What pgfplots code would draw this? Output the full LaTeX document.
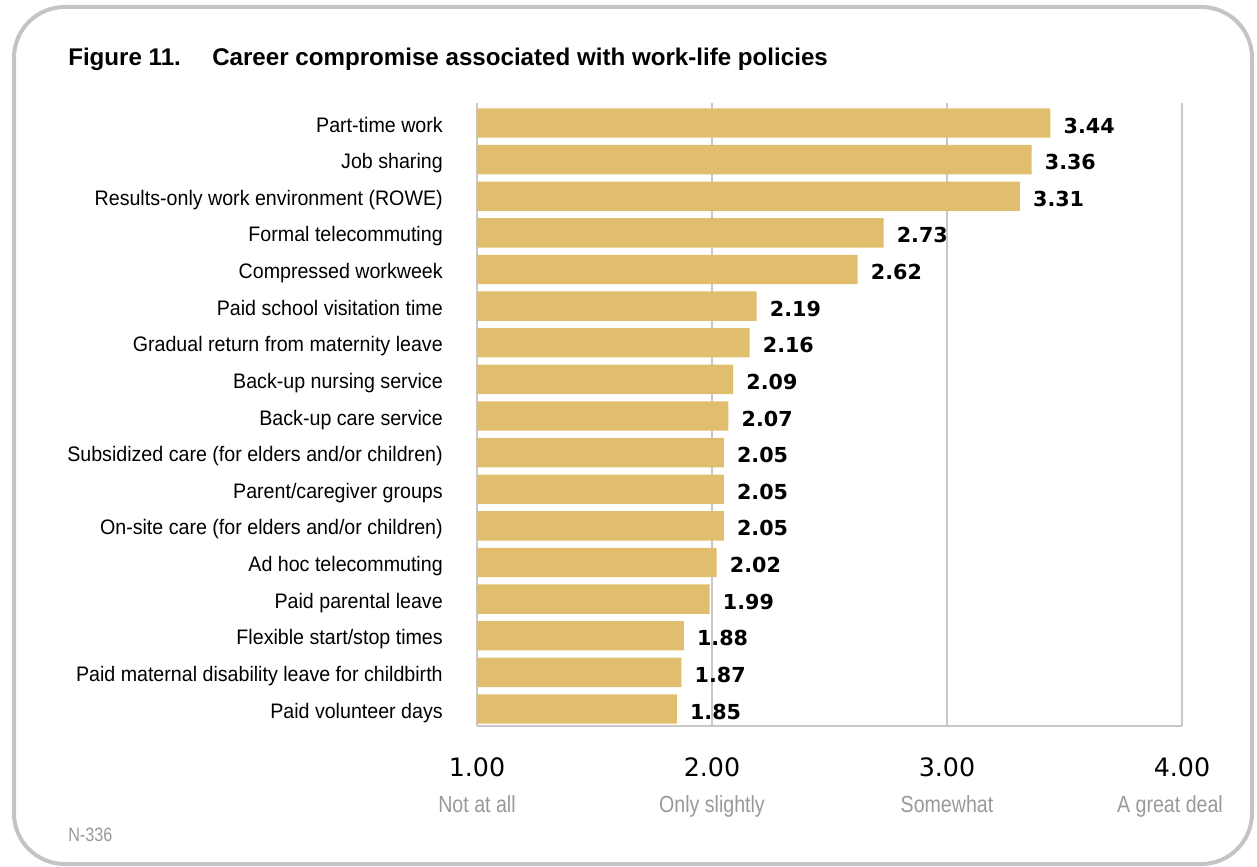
\documentclass[border=0pt]{standalone}
\usepackage{fontspec}
\usepackage{pgfplots}
\pgfplotsset{compat=1.18}
\usepackage{pgfplotstable}
\setmainfont{Liberation Sans}
\newfontfamily\catfont[FakeStretch=0.935]{Liberation Sans}
\newfontfamily\grayfont[FakeStretch=0.84]{Liberation Sans}
\newfontfamily\dejavu{DejaVu Sans}
\definecolor{bargold}{HTML}{E0BE6E}
\definecolor{gridgray}{HTML}{C8C8C8}
\definecolor{framegray}{HTML}{C4C4C4}
\definecolor{labelgray}{HTML}{999999}

\pgfplotstableread{
idx val
0 3.44
1 3.36
2 3.31
3 2.73
4 2.62
5 2.19
6 2.16
7 2.09
8 2.07
9 2.05
10 2.05
11 2.05
12 2.02
13 1.99
14 1.88
15 1.87
16 1.85
}\datatable

\begin{document}
\begin{tikzpicture}
\useasboundingbox (0,0) rectangle (942.75pt,-650.25pt);
\draw[framegray, line width=3pt, rounded corners=38pt] (14*0.75pt,-7*0.75pt) rectangle (1252*0.75pt,-864*0.75pt);
\node[anchor=base west, inner sep=0pt, font=\bfseries\fontsize{18.1pt}{21pt}\selectfont] at (68*0.75pt,-66*0.75pt) {Figure 11.};
\node[anchor=base west, inner sep=0pt, font=\bfseries\fontsize{18.1pt}{21pt}\selectfont] at (212*0.75pt,-66*0.75pt) {Career compromise associated with work-life policies};
\node[anchor=base west, inner sep=0pt, text=labelgray, font=\grayfont\fontsize{14.5pt}{16pt}\selectfont] at (68*0.75pt,-841*0.75pt) {N-336};
\begin{axis}[
  at={(477*0.75pt,-103*0.75pt)}, anchor=north west,
  scale only axis, width=528.75pt, height=467.25pt,
  /pgf/number format/assume math mode=true,
  xbar, bar width=0.8,
  xmin=1, xmax=4, ymin=-0.546, ymax=16.464, y dir=reverse,
  axis line style={draw=none},
  major tick length=0pt,
  xtick={1,2,3,4},
  xticklabels={1.00,2.00,3.00,4.00},
  xticklabel style={anchor=base, inner sep=0pt, yshift=-37.5pt, font=\dejavu\fontsize{19pt}{22pt}\selectfont},
  extra x ticks={1,2,3,4},
  extra x tick labels={Not at all,Only slightly,Somewhat,A great deal\kern18pt\mbox{}},
  extra x tick style={grid=none, xticklabel style={yshift=-27pt, text=labelgray, font=\grayfont\fontsize{17.5pt}{20pt}\selectfont}},
  xmajorgrids, grid style={gridgray, line width=1.5pt},
  ytick={0,...,16},
  yticklabels={Part-time work,Job sharing,Results-only work environment (ROWE),Formal telecommuting,Compressed workweek,Paid school visitation time,Gradual return from maternity leave,Back-up nursing service,Back-up care service,Subsidized care (for elders and/or children),Parent/caregiver groups,On-site care (for elders and/or children),Ad hoc telecommuting,Paid parental leave,Flexible start/stop times,Paid maternal disability leave for childbirth,Paid volunteer days},
  yticklabel style={anchor=base east, inner sep=0pt, xshift=-25.5pt, yshift=-6.75pt, font=\catfont\fontsize{15.75pt}{18pt}\selectfont},
  point meta=x,
  nodes near coords={\pgfmathprintnumber[fixed,fixed zerofill,precision=2]{\pgfplotspointmeta}},
  nodes near coords style={anchor=base west, inner sep=0pt, xshift=9.75pt, yshift=-7.5pt, font=\dejavu\bfseries\fontsize{15.5pt}{18pt}\selectfont},
]
\addplot[fill=bargold, draw=none] table[x=val, y=idx] {\datatable};
\draw[gridgray, line width=1.5pt] (axis description cs:0,0) -- (axis description cs:1,0);
\end{axis}
\end{tikzpicture}
\end{document}
